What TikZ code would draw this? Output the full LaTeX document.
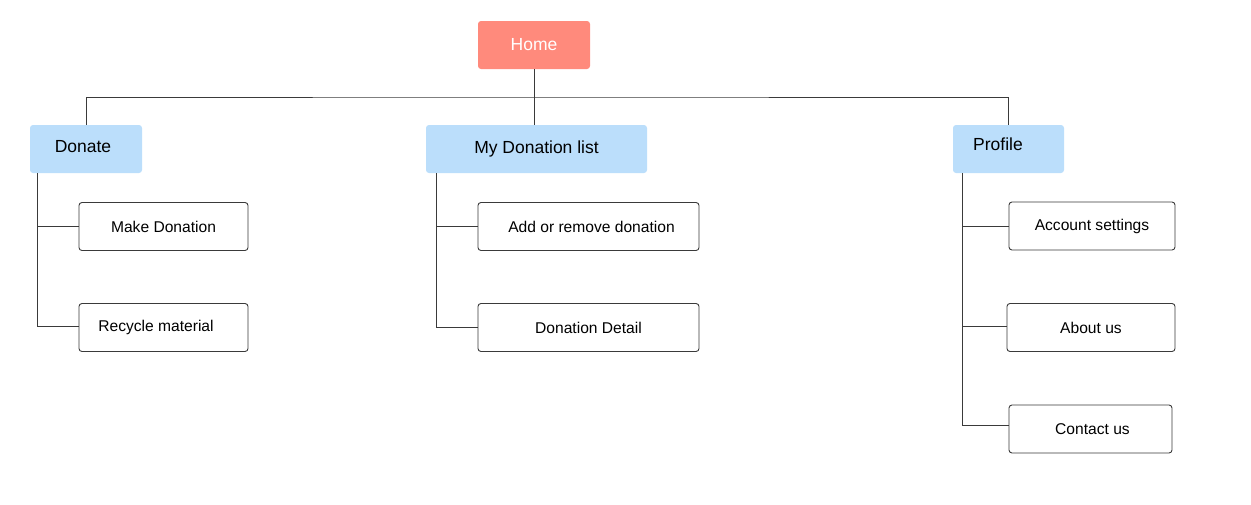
\documentclass[tikz,border=0pt]{standalone}
\usepackage{fontspec}
\setmainfont{Liberation Sans}
\definecolor{homefill}{HTML}{FF8A7C}
\definecolor{catfill}{HTML}{BBDEFB}
\definecolor{linegray}{HTML}{3A3A3A}
\begin{document}
\begin{tikzpicture}[x=1pt,y=-1pt,
  homebox/.style={fill=homefill, rounded corners=3pt, minimum width=112pt, minimum height=48pt, inner sep=0pt, text=white, font=\fontsize{17.5}{20}\selectfont},
  catbox/.style={fill=catfill, rounded corners=3pt, minimum height=48pt, inner sep=0pt, text=black, font=\fontsize{17.5}{20}\selectfont},
  cattext/.style={inner sep=0pt, text=black, font=\fontsize{17.5}{20}\selectfont},
  leafbox/.style={draw=linegray, line width=0.9pt, rounded corners=3pt, minimum height=48pt, inner sep=0pt, text=black, font=\fontsize{15.6}{18}\selectfont},
  conn/.style={draw=linegray, line width=1pt}
]
\useasboundingbox (0,0) rectangle (1251,504);
% top level
\node[homebox] (home) at (534,45) {Home};
\node[catbox, minimum width=112pt] (donate) at (86,149) {};
\node[cattext] (donatetext) at (83,147) {Donate};
\node[catbox, minimum width=221pt] (mydl) at (536.5,149) {My Donation list};
\node[catbox, minimum width=111pt] (profile) at (1008.5,149) {};
\node[cattext] (profiletext) at (998,144) {Profile};
% leaves
\node[leafbox, minimum width=169pt] (make) at (163.5,226.5) {Make Donation};
\node[leafbox, minimum width=169pt] (recycle) at (163.5,327.5) {\hspace*{-15pt}Recycle material};
\node[leafbox, minimum width=221pt] (addrem) at (588.5,226.5) {\hspace*{6pt}Add or remove donation};
\node[leafbox, minimum width=221pt] (detail) at (588.5,327.5) {Donation Detail};
\node[leafbox, minimum width=166pt] (account) at (1092,226) {Account settings};
\node[leafbox, minimum width=168pt] (about) at (1091,327.5) {About us};
\node[leafbox, minimum width=163pt] (contact) at (1090.5,429) {\hspace*{4pt}Contact us};
% connectors
\coordinate (bus) at (534,97);
\draw[conn] (home.south) -- (home.south |- mydl.north);
\draw[conn] (donate.north) |- (bus) -| (profile.north);
\coordinate (dtop) at (37,173);
\coordinate (mtop) at (436,173);
\coordinate (ptop) at (962,173);
\draw[conn] (dtop) |- (make.west);
\draw[conn] (dtop) |- ([yshift=1.5pt]recycle.west);
\draw[conn] (mtop) |- (addrem.west);
\draw[conn] (mtop) |- ([yshift=0.5pt]detail.west);
\draw[conn] (ptop) |- (account.west);
\draw[conn] (ptop) |- ([yshift=1.5pt]about.west);
\draw[conn] (ptop) |- ([yshift=4pt]contact.west);
\end{tikzpicture}
\end{document}
